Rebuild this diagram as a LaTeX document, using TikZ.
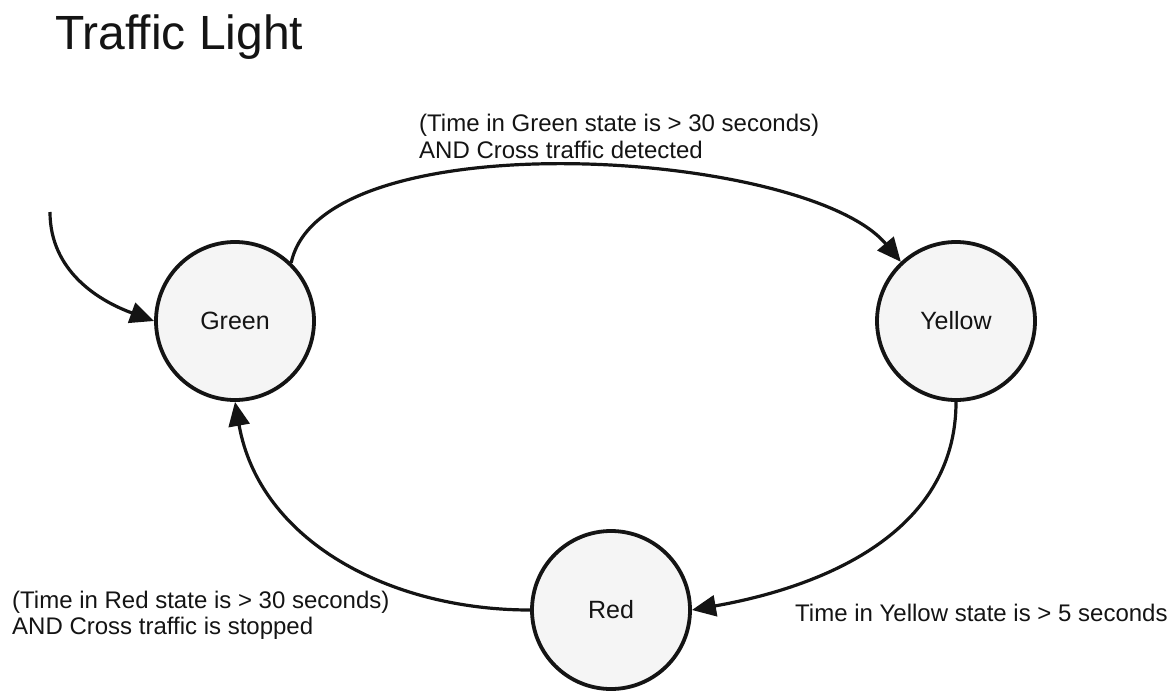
\documentclass[tikz,border=0pt]{standalone}
\usepackage{fontspec}
\setmainfont{Liberation Sans}
\usetikzlibrary{arrows.meta}
\definecolor{StateClr}{gray}{0.96}
\definecolor{InkClr}{gray}{0.08}

\begin{document}
\begin{tikzpicture}[x=1pt,y=1pt,
  state/.style={circle,draw=InkClr,line width=3.8pt,fill=StateClr,minimum size=158pt,
    inner sep=0pt,text=InkClr,font=\fontsize{25}{30}\selectfont},
  trans/.style={draw=InkClr,line width=3.2pt,-{Triangle[length=24pt,width=21pt]}},
  note/.style={inner sep=0pt,align=left,text=InkClr,font=\fontsize{24}{26}\selectfont}]
\useasboundingbox (0,0) rectangle (1174,-690);

\node[anchor=base west,inner sep=0pt,text=InkClr,font=\fontsize{48}{58}\selectfont] (title) at (55,-50) {Traffic Light};

\node[state] (green) at (235,-321) {Green};
\node[state] (yellow) at (956,-321) {Yellow};
\node[state] (red) at (611,-610) {Red};

\coordinate (init) at (50,-212);

\draw[trans] (init) to[out=-90,in=160] (green.west);
\draw[trans] (green.46) to[out=78,in=130,looseness=0.62] (yellow.133);
\draw[trans] (yellow.south) to[out=-90,in=10] (red.east);
\draw[trans] (red.west) to[out=180,in=-80] (green.south);

\node[note,anchor=north west,font=\fontsize{24}{27}\selectfont] (gy) at (419,-114) {(Time in Green state is > 30 seconds)\\AND Cross traffic detected};
\node[note,anchor=base west] (yr) at (795,-621) {Time in Yellow state is > 5 seconds};
\node[note,anchor=north west] (rg) at (12,-591) {(Time in Red state is > 30 seconds)\\AND Cross traffic is stopped};

\end{tikzpicture}
\end{document}
